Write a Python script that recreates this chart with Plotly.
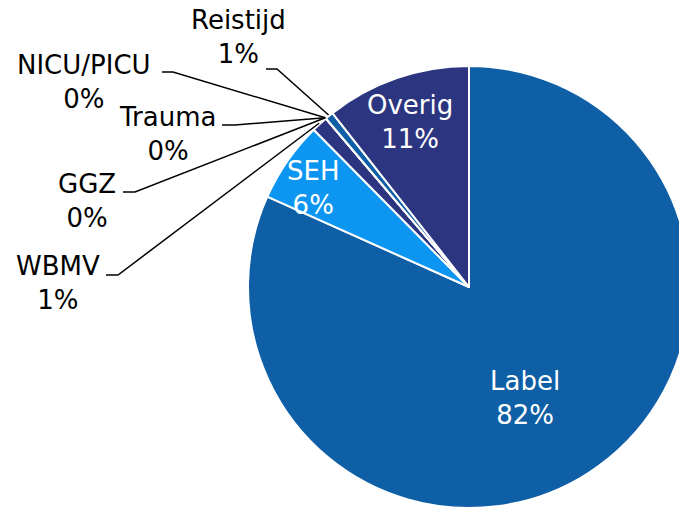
import math
import plotly.graph_objects as go

# ---- data ----
categories = ["Label", "SEH", "WBMV", "GGZ", "Trauma", "NICU/PICU", "Reistijd", "Overig"]
values = [81.7, 5.9, 1.2, 0, 0, 0, 0.6, 10.6]
colors = ["#0F5FA6", "#0C96F2", "#2B3580", "#0F5FA6", "#0C96F2", "#2B3580", "#0F5FA6", "#2B3580"]

# ---- layout constants (pixels) ----
W, H = 691, 509
CX, CY, R = 469, 287, 221
FONT = "DejaVu Sans, Verdana, sans-serif"
FS = 26


def px(x):
    return x / W


def py(y):
    return 1 - y / H


total = sum(values)
pcts = [round(v / total * 100) for v in values]

fig = go.Figure(
    go.Pie(
        labels=categories,
        values=values,
        sort=False,
        direction="clockwise",
        rotation=0,
        marker=dict(colors=colors, line=dict(color="white", width=2)),
        textinfo="none",
        hoverinfo="label+percent",
        showlegend=False,
        domain=dict(x=[px(CX - R), px(CX + R)], y=[py(CY + R), py(CY - R)]),
    )
)

# label positions (text block centres) and leader-line elbows
inside_pos = {"Label": (525, 398), "SEH": (313, 188), "Overig": (410, 122)}
outside_pos = {
    "Reistijd": ((238, 37), (266, 69), (277, 69)),
    "NICU/PICU": ((84, 82), (162, 72), (173, 72)),
    "Trauma": ((167, 134), (222, 125), (235, 125)),
    "GGZ": ((87, 201), (123, 192), (135, 192)),
    "WBMV": ((58, 283), (106, 275), (118, 275)),
}

annotations = []
shapes = []
cum = 0.0
for cat, v, p in zip(categories, values, pcts):
    mid = (cum + v / 2) / total * 2 * math.pi
    cum += v
    text = f"{cat}<br>{p}%"
    if cat in inside_pos:
        x, y = inside_pos[cat]
        annotations.append(dict(x=px(x), y=py(y), xref="paper", yref="paper", text=text,
                                showarrow=False, xanchor="center", yanchor="middle",
                                font=dict(family=FONT, size=FS, color="white")))
    else:
        (x, y), (ax, ay), (bx, by) = outside_pos[cat]
        annotations.append(dict(x=px(x), y=py(y), xref="paper", yref="paper", text=text,
                                showarrow=False, xanchor="center", yanchor="middle",
                                font=dict(family=FONT, size=FS, color="black")))
        ex = CX + (R + 1) * math.sin(mid)
        ey = CY - (R + 1) * math.cos(mid)
        shapes.append(dict(type="path", xref="paper", yref="paper",
                           path=f"M {px(ax)},{py(ay)} L {px(bx)},{py(by)} L {px(ex)},{py(ey)}",
                           line=dict(color="black", width=1.5)))

fig.update_layout(
    width=W,
    height=H,
    margin=dict(l=0, r=0, t=0, b=0),
    paper_bgcolor="white",
    plot_bgcolor="white",
    annotations=annotations,
    shapes=shapes,
    font=dict(family=FONT),
)

fig.write_html(
    "out.html",
    config={"displayModeBar": False},
    post_script="document.body.style.margin='0';document.body.style.overflow='hidden';"
                "document.documentElement.style.overflow='hidden';",
)
